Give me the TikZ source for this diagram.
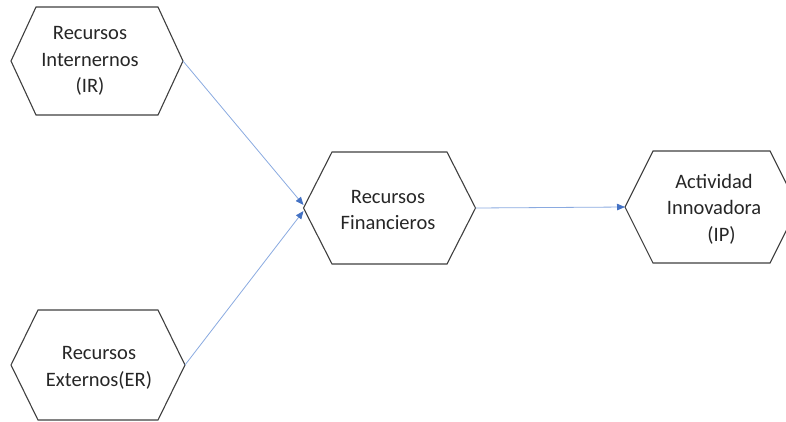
\documentclass[tikz,border=0pt]{standalone}
\usepackage{fontspec}
\setmainfont{Carlito}
\usetikzlibrary{arrows.meta}

\definecolor{edgegray}{HTML}{3F3F3F}
\definecolor{linkblue}{HTML}{8AAAE0}
\definecolor{tipblue}{HTML}{4472C4}

\tikzset{
  x=1pt, y=-1pt,
  hexbody/.style={shape=rectangle, draw=none, inner sep=0pt, outer sep=0pt,
    minimum width=118pt, minimum height=110pt},
  hexline/.style={draw=edgegray, line width=1.1pt, line join=miter},
  hextext/.style={align=center, inner sep=0pt,
    font=\fontsize{20.5}{26.5}\selectfont, text=black!85},
  link/.style={draw=linkblue, line width=0.8pt,
    -{Triangle[length=8pt,width=6.5pt,color=tipblue]}},
}

% flat-topped hexagon around a rectangle node, with named left and right tips
\newcommand\hexframe[2]{%
  \coordinate (#1-l) at ([xshift=-#2pt]#1.west);
  \coordinate (#1-r) at ([xshift=#2pt]#1.east);
  \draw[hexline] (#1.north west) -- (#1.north east) -- (#1-r)
    -- (#1.south east) -- (#1.south west) -- (#1-l) -- cycle;
}

\begin{document}
\begin{tikzpicture}
  \useasboundingbox (0,0) rectangle (786,421);

  % hexagon bodies
  \node[hexbody, minimum width=122pt, minimum height=108pt] (ir) at (97,61) {};
  \node[hexbody, minimum width=120pt] (er) at (98,365) {};
  \node[hexbody, minimum width=115pt, minimum height=112pt] (rf) at (389.5,208) {};
  \node[hexbody, minimum width=117pt, minimum height=112pt] (ip) at (711.5,207) {};

  \hexframe{ir}{25}
  \hexframe{er}{27}
  \hexframe{rf}{28.5}
  \hexframe{ip}{28}

  % labels
  \node[hextext] (ir-t) at (90,61) {Recursos\\Internernos\\(IR)};
  \node[hextext] (er-t) at (99,368) {Recursos\\Externos(ER)};
  \node[hextext] (rf-t) at (388,210) {Recursos\\Financieros};
  \node[hextext] (ip-t) at (714,209) {Actividad\\Innovadora\\\hspace*{15pt}(IP)};

  % connectors
  \coordinate (rf-in1) at ([yshift=3pt]rf-l);
  \coordinate (rf-in2) at ([yshift=-3pt]rf-l);
  \draw[link] (ir-r) -- (rf-in1);
  \draw[link] (er-r) -- (rf-in2);
  \draw[link] (rf-r) -- (ip-l);
\end{tikzpicture}
\end{document}
